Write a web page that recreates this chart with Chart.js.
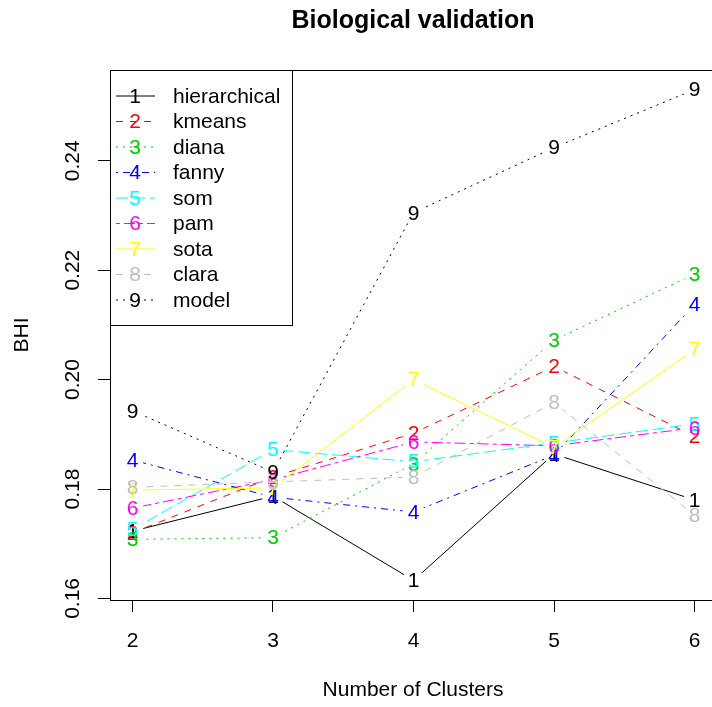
<!DOCTYPE html>
<html>
<head>
<meta charset="UTF-8">
<title>Biological validation</title>
<script src="https://cdn.jsdelivr.net/npm/chart.js"></script>
<style>
  html, body { margin: 0; padding: 0; background: #fff; overflow: hidden; }
  canvas { display: block; }
</style>
</head>
<body>
<canvas id="bhiChart" width="717" height="707"></canvas>
<script>
// number of clusters on the x axis
const clusters = [2, 3, 4, 5, 6];
const methods = ['hierarchical', 'kmeans', 'diana', 'fanny', 'som', 'pam', 'sota', 'clara', 'model'];

// BHI per method
const hierarchical = [0.1723, 0.1787, 0.1633, 0.1864, 0.1780];
const kmeans       = [0.1720, 0.1822, 0.1902, 0.2024, 0.1896];
const diana        = [0.1708, 0.1711, 0.1846, 0.2072, 0.2193];
const fanny        = [0.1853, 0.1785, 0.1758, 0.1862, 0.2137];
const som          = [0.1726, 0.1872, 0.1850, 0.1884, 0.1919];
const pam          = [0.1765, 0.1817, 0.1886, 0.1879, 0.1912];
const sota         = [0.1798, 0.1802, 0.2000, 0.1876, 0.2055];
const clara        = [0.1803, 0.1813, 0.1822, 0.1958, 0.1752];
const model        = [0.1943, 0.1831, 0.2305, 0.2424, 0.2530];

const xTicks = [2, 3, 4, 5, 6];
const yTicks = [0.16, 0.18, 0.20, 0.22, 0.24];

const series = [hierarchical, kmeans, diana, fanny, som, pam, sota, clara, model];
const colors = ['#000000', '#FF0000', '#00CD00', '#0000FF', '#00FFFF', '#FF00FF', '#FFFF00', '#BEBEBE', '#000000'];
const dashes = [[], [7, 7], [2, 5], [2, 5, 7, 5], [12, 5], [4, 4, 11, 4], [], [7, 7], [2, 5]];

const FONT = '"Liberation Sans", Arial, Helvetica, sans-serif';
const GAP = 11; // type="b": lines stop short of the point symbols

// R style axis range: data range plus 4% each side
const allY = series.flat();
const yLo = Math.min(...allY), yHi = Math.max(...allY);
const yPad = (yHi - yLo) * 0.04;
const xPad = (Math.max(...clusters) - Math.min(...clusters)) * 0.04;

const datasets = series.map((vals, i) => ({
    label: methods[i],
    data: vals.map((v, j) => ({ x: clusters[j], y: v })),
    borderColor: colors[i],
    borderWidth: 1,
    borderDash: dashes[i],
    pointRadius: 0,
    fill: false,
    tension: 0,
    order: series.length - i
}));

const rPlot = {
    id: 'rPlot',
    beforeDatasetDraw(chart, args) {
        // cut holes around this series' own points
        const ctx = chart.ctx;
        const a = chart.chartArea;
        ctx.save();
        ctx.beginPath();
        ctx.rect(0, 0, chart.width, chart.height);
        args.meta.data.forEach(p => {
            ctx.moveTo(p.x + GAP, p.y);
            ctx.arc(p.x, p.y, GAP, 0, Math.PI * 2);
        });
        ctx.clip('evenodd');
    },
    afterDatasetDraw(chart) {
        chart.ctx.restore();
    },
    afterDatasetsDraw(chart) {
        const ctx = chart.ctx;
        const xs = chart.scales.x, ys = chart.scales.y;
        ctx.save();
        ctx.font = '21px ' + FONT;
        ctx.textAlign = 'center';
        ctx.textBaseline = 'middle';
        series.forEach((vals, i) => {
            ctx.fillStyle = colors[i];
            vals.forEach((v, j) => {
                ctx.fillText(String(i + 1), xs.getPixelForValue(clusters[j]), ys.getPixelForValue(v) + 1);
            });
        });
        ctx.restore();
    },
    afterDraw(chart) {
        const ctx = chart.ctx;
        const a = chart.chartArea;
        const xs = chart.scales.x, ys = chart.scales.y;
        ctx.save();

        // box
        ctx.strokeStyle = '#000';
        ctx.lineWidth = 1;
        ctx.setLineDash([]);
        ctx.strokeRect(Math.round(a.left) + 0.5, Math.round(a.top) + 0.5, a.right - a.left, Math.round(a.bottom - a.top));

        // title
        ctx.fillStyle = '#000';
        ctx.font = 'bold 25px ' + FONT;
        ctx.textAlign = 'center';
        ctx.textBaseline = 'middle';
        ctx.fillText('Biological validation', 413, 21);

        // tick labels
        ctx.font = '21px ' + FONT;
        xTicks.forEach(t => ctx.fillText(String(t), xs.getPixelForValue(t), 641));
        yTicks.forEach(t => {
            ctx.save();
            ctx.translate(73, ys.getPixelForValue(t));
            ctx.rotate(-Math.PI / 2);
            ctx.fillText(t.toFixed(2), 0, 0);
            ctx.restore();
        });

        // axis titles
        ctx.fillText('Number of Clusters', 413, 690);
        ctx.save();
        ctx.translate(22, (a.top + a.bottom) / 2);
        ctx.rotate(-Math.PI / 2);
        ctx.fillText('BHI', 0, 0);
        ctx.restore();

        // legend
        const lx = Math.round(a.left) + 0.5, ly = Math.round(a.top) + 0.5;
        ctx.fillStyle = '#fff';
        ctx.fillRect(lx, ly, 182, 255);
        ctx.strokeStyle = '#000';
        ctx.strokeRect(lx, ly, 182, 255);
        methods.forEach((m, i) => {
            const y = 96 + i * 25.5;
            ctx.strokeStyle = colors[i];
            ctx.setLineDash(dashes[i]);
            ctx.beginPath();
            ctx.moveTo(116, y);
            ctx.lineTo(155, y);
            ctx.stroke();
            ctx.setLineDash([]);
            ctx.fillStyle = colors[i];
            ctx.textAlign = 'center';
            ctx.fillText(String(i + 1), 135, y + 1);
            ctx.fillStyle = '#000';
            ctx.textAlign = 'left';
            ctx.fillText(m, 173, y + 1);
        });
        ctx.restore();
    }
};

new Chart(document.getElementById('bhiChart').getContext('2d'), {
    type: 'line',
    data: { datasets: datasets },
    options: {
        responsive: false,
        animation: false,
        devicePixelRatio: 1,
        layout: { padding: { top: 70, right: 0, left: 0, bottom: 0 } },
        plugins: { legend: { display: false }, tooltip: { enabled: false }, title: { display: false } },
        scales: {
            x: {
                type: 'linear',
                min: Math.min(...clusters) - xPad,
                max: Math.max(...clusters) + xPad,
                afterBuildTicks: s => { s.ticks = xTicks.map(v => ({ value: v })); },
                afterFit: s => { s.height = 107; },
                ticks: { display: false },
                grid: { display: true, drawOnChartArea: false, drawTicks: true, tickLength: 12, color: '#000', lineWidth: 1 },
                border: { display: false }
            },
            y: {
                type: 'linear',
                min: yLo - yPad,
                max: yHi + yPad,
                afterBuildTicks: s => { s.ticks = yTicks.map(v => ({ value: v })); },
                afterFit: s => { s.width = 110; },
                ticks: { display: false },
                grid: { display: true, drawOnChartArea: false, drawTicks: true, tickLength: 12, color: '#000', lineWidth: 1 },
                border: { display: false }
            }
        }
    },
    plugins: [rPlot]
});
</script>
</body>
</html>
